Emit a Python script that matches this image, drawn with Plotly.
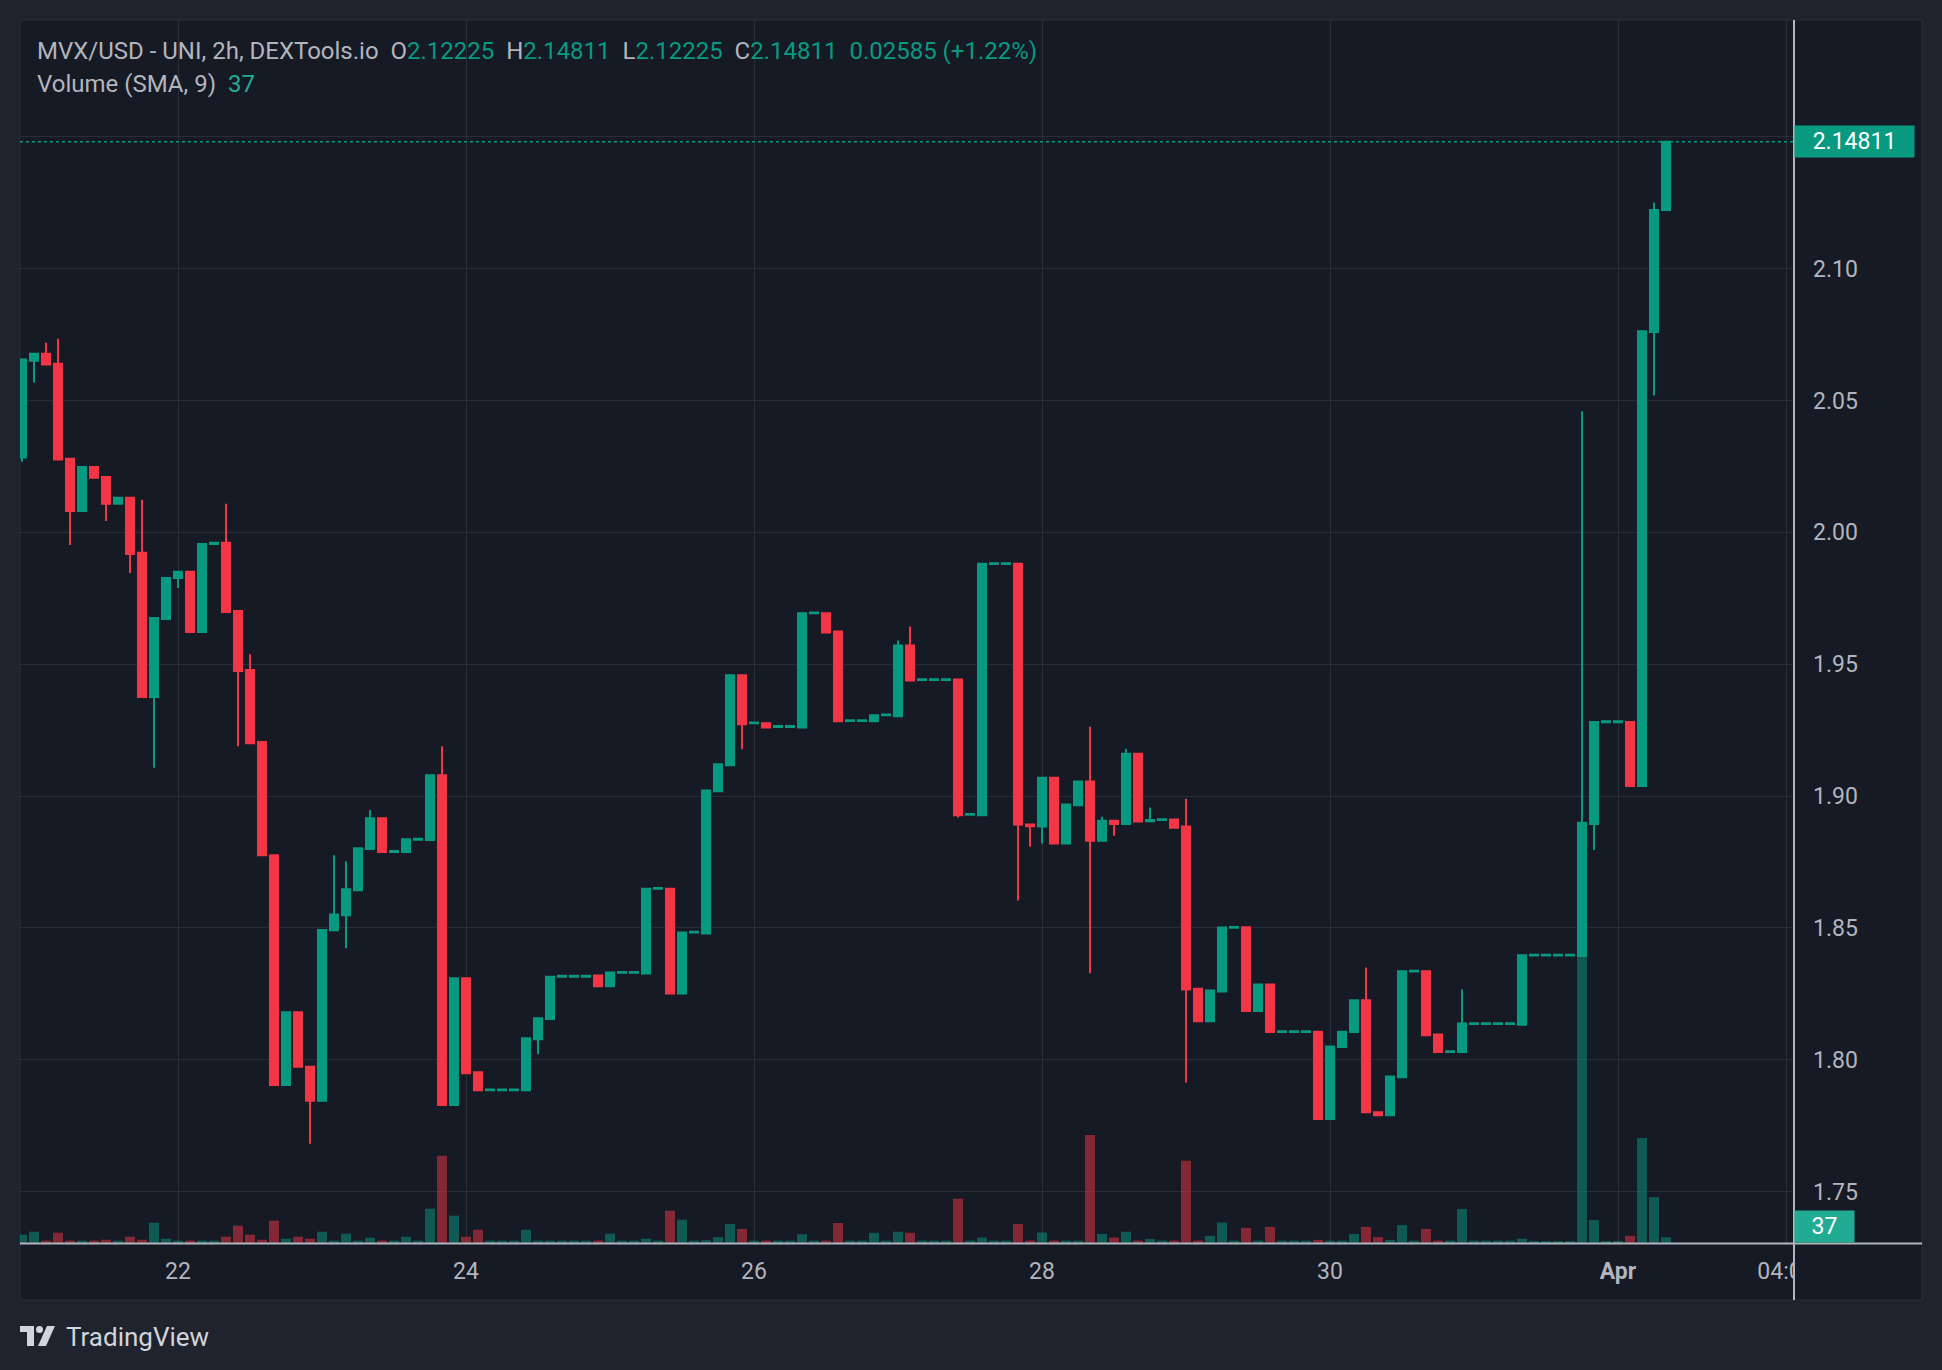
import pandas as pd
import plotly.graph_objects as go

# ---------------- data (2h candles, MVX/USD) ----------------
start_time = "2024-03-20 22:00"
opens = [2.0284, 2.0651, 2.0677, 2.0639, 2.0279, 2.0081, 2.0248, 2.0210, 2.0108, 2.0131,
         1.9922, 1.9375, 1.9671, 1.9827, 1.9850, 1.9622, 1.9956, 1.9960, 1.9702, 1.9478,
         1.9205, 1.8775, 1.7904, 1.8180, 1.7973, 1.7844, 1.8491, 1.8548, 1.8643, 1.8799,
         1.8916, 1.8788, 1.8788, 1.8834, 1.8833, 1.9079, 1.7828, 1.8309, 1.7952, 1.7884,
         1.7884, 1.7884, 1.7884, 1.8078, 1.8154, 1.8315, 1.8315, 1.8315, 1.8319, 1.8279,
         1.8330, 1.8330, 1.8327, 1.8648, 1.8648, 1.8251, 1.8482, 1.8479, 1.9018, 1.9117,
         1.9458, 1.9276, 1.9276, 1.9262, 1.9262, 1.9260, 1.9693, 1.9693, 1.9624, 1.9284,
         1.9284, 1.9283, 1.9306, 1.9302, 1.9571, 1.9440, 1.9440, 1.9440, 1.9442, 1.8929,
         1.8927, 1.9880, 1.9880, 1.9881, 1.8892, 1.8884, 1.9069, 1.8820, 1.8965, 1.9055,
         1.8830, 1.8906, 1.8894, 1.9160, 1.8904, 1.8909, 1.8911, 1.8884, 1.8269, 1.8146,
         1.8259, 1.8500, 1.8502, 1.8185, 1.8285, 1.8105, 1.8105, 1.8105, 1.8106, 1.7775,
         1.8048, 1.8105, 1.8225, 1.7801, 1.7789, 1.7933, 1.8334, 1.8335, 1.8096, 1.8029,
         1.8029, 1.8135, 1.8135, 1.8135, 1.8135, 1.8133, 1.8395, 1.8395, 1.8395, 1.8395,
         1.8393, 1.8894, 1.9280, 1.9280, 1.9281, 1.9038, 2.0760, 2.12225]
closes = [2.0655, 2.0677, 2.0636, 2.0276, 2.0081, 2.0248, 2.0207, 2.0108, 2.0131, 1.9918,
          1.9375, 1.9675, 1.9827, 1.9850, 1.9622, 1.9956, 1.9960, 1.9698, 1.9474, 1.9200,
          1.8775, 1.7904, 1.8180, 1.7973, 1.7844, 1.8492, 1.8551, 1.8646, 1.8802, 1.8916,
          1.8788, 1.8791, 1.8836, 1.8838, 1.9079, 1.7828, 1.8309, 1.7949, 1.7884, 1.7887,
          1.7887, 1.7887, 1.8081, 1.8157, 1.8315, 1.8318, 1.8318, 1.8318, 1.8279, 1.8331,
          1.8333, 1.8333, 1.8648, 1.8651, 1.8251, 1.8482, 1.8485, 1.9021, 1.9120, 1.9458,
          1.9272, 1.9279, 1.9260, 1.9265, 1.9265, 1.9693, 1.9696, 1.9620, 1.9283, 1.9287,
          1.9287, 1.9306, 1.9309, 1.9571, 1.9438, 1.9443, 1.9443, 1.9443, 1.8927, 1.8932,
          1.9881, 1.9883, 1.9883, 1.8892, 1.8885, 1.9069, 1.8820, 1.8968, 1.9055, 1.8830,
          1.8906, 1.8894, 1.9160, 1.8903, 1.8909, 1.8912, 1.8880, 1.8266, 1.8146, 1.8262,
          1.8501, 1.8503, 1.8185, 1.8285, 1.8105, 1.8108, 1.8108, 1.8108, 1.7775, 1.8050,
          1.8106, 1.8225, 1.7801, 1.7789, 1.7936, 1.8335, 1.8337, 1.8093, 1.8029, 1.8032,
          1.8137, 1.8138, 1.8138, 1.8138, 1.8138, 1.8396, 1.8398, 1.8398, 1.8398, 1.8398,
          1.8899, 1.9281, 1.9283, 1.9283, 1.9038, 2.0762, 2.12225, 2.14811]
# explicit wick extremes (index: value); other candles have no wick
wick_highs = {2: 2.0719, 3: 2.0734, 8: 2.0131, 10: 2.0123, 17: 2.0108, 18: 1.9705,
              19: 1.9538, 26: 1.8775, 27: 1.8752, 29: 1.8947, 35: 1.9189, 73: 1.9590,
              74: 1.9643, 89: 1.9263, 90: 1.8921, 92: 1.9179, 94: 1.8956, 97: 1.8990,
              112: 1.8350, 120: 1.8266, 130: 2.0459, 136: 2.1251}
wick_lows = {0: 2.0268, 1: 2.0568, 4: 1.9952, 7: 2.0043, 9: 1.9846, 11: 1.9107,
             13: 1.9789, 18: 1.9189, 24: 1.7681, 27: 1.8423, 43: 1.8021, 60: 1.9177,
             78: 1.8918, 83: 1.8604, 84: 1.8808, 85: 1.8820, 89: 1.8328, 91: 1.8849,
             97: 1.7914, 131: 1.8795, 136: 2.0519}
volumes = [53, 72, 15, 66, 15, 15, 15, 21, 15, 40, 21, 130, 28, 15, 15, 15, 15, 40, 111, 53,
           21, 143, 28, 40, 28, 72, 15, 60, 15, 34, 15, 15, 40, 15, 220, 559, 175, 40, 85, 15,
           15, 15, 85, 15, 15, 15, 15, 15, 15, 60, 15, 15, 28, 15, 207, 149, 15, 18, 38, 122,
           90, 15, 15, 15, 15, 56, 15, 15, 128, 15, 15, 65, 15, 72, 65, 15, 15, 15, 284, 15,
           35, 15, 15, 122, 15, 67, 15, 15, 15, 692, 58, 35, 72, 15, 26, 15, 15, 527, 15, 46,
           131, 15, 97, 15, 103, 15, 15, 15, 20, 15, 15, 58, 103, 38, 20, 115, 15, 90, 15, 15,
           218, 15, 15, 15, 15, 28, 12, 12, 12, 12, 1830, 147, 13, 13, 46, 672, 294, 37]

price_ticks = [1.75, 1.80, 1.85, 1.90, 1.95, 2.00, 2.05, 2.10, 2.15]
# the 2.15 label is hidden behind the last-price label in the reference
price_tick_labels = ["1.75", "1.80", "1.85", "1.90", "1.95", "2.00", "2.05", "2.10", ""]
time_ticks = ["2024-03-22", "2024-03-24", "2024-03-26", "2024-03-28", "2024-03-30",
              "2024-04-01", "2024-04-02 04:00"]
time_tick_labels = ["22", "24", "26", "28", "30", "<b>Apr</b>", "04:00"]

header_symbol = "MVX/USD - UNI, 2h, DEXTools.io"
header_values = [("O", "2.12225"), ("H", "2.14811"), ("L", "2.12225"), ("C", "2.14811")]
header_change = "0.02585 (+1.22%)"
volume_title = "Volume (SMA, 9)"
volume_last = "37"

# ---------------- styling ----------------
W, H = 1942, 1370
PL, PR, PT, PB = 20, 1793, 20, 1243      # plot area in pixels
PANEL_R, PANEL_B = 1922, 1300
PAGE_BG = "#1f232e"
PANEL_BG = "#161a25"
GRID = "#292d38"
TEXT = "#b2b5be"
UP = "#089981"
DOWN = "#f23645"
UP_VOL = "rgba(8,153,129,0.5)"
DOWN_VOL = "rgba(242,54,69,0.5)"
FONT = "Roboto"
AXIS_FONT = 23


def px_x(p):
    return (p - PL) / (PR - PL)


def px_y(p):
    return (PB - p) / (PB - PT)


times = pd.date_range(start_time, periods=len(opens), freq="2h")
highs = [max(o, c, wick_highs.get(i, 0)) for i, (o, c) in enumerate(zip(opens, closes))]
lows = [min(o, c, wick_lows.get(i, 9)) for i, (o, c) in enumerate(zip(opens, closes))]
vol_colors = [UP_VOL if c >= o else DOWN_VOL for o, c in zip(opens, closes)]

fig = go.Figure()
fig.add_trace(go.Bar(x=times, y=volumes, marker=dict(color=vol_colors, line=dict(width=0)),
                     yaxis="y2", hoverinfo="skip"))
fig.add_trace(go.Candlestick(
    x=times, open=opens, high=highs, low=lows, close=closes,
    increasing=dict(line=dict(color=UP, width=2), fillcolor=UP),
    decreasing=dict(line=dict(color=DOWN, width=2), fillcolor=DOWN),
    whiskerwidth=0, hoverinfo="skip"))

# price / time range derived from pixel calibration
y_per_px = 0.05 / 131.85
y_top = 2.10 + (268.6 - PT) * y_per_px
y_bot = 2.10 - (PB - 268.6) * y_per_px
x_start = pd.Timestamp("2024-03-21 00:00") - pd.Timedelta(minutes=140)
x_end = pd.Timestamp("2024-04-01 00:00") + pd.Timedelta(minutes=1750)

LOGO = "#d1d4dc"
shapes = [
    # chart panel
    dict(type="rect", xref="paper", yref="paper", x0=px_x(PL), x1=px_x(PANEL_R),
         y0=px_y(PT), y1=px_y(PANEL_B), fillcolor=PANEL_BG,
         line=dict(color="#2a2e39", width=1), layer="below"),
    # cover overflow of time labels in price-scale corner
    dict(type="rect", xref="paper", yref="paper", x0=px_x(PR + 1), x1=px_x(PANEL_R - 1),
         y0=px_y(PB + 2), y1=px_y(PANEL_B - 1), fillcolor=PANEL_BG, line=dict(width=0),
         layer="above"),
    # price scale border
    dict(type="line", xref="paper", yref="paper", x0=px_x(PR + 1), x1=px_x(PR + 1),
         y0=px_y(PT), y1=px_y(PANEL_B), line=dict(color=TEXT, width=2), layer="above"),
    # time scale border
    dict(type="line", xref="paper", yref="paper", x0=px_x(PL), x1=px_x(PANEL_R),
         y0=px_y(PB + 0.5), y1=px_y(PB + 0.5), line=dict(color=TEXT, width=2), layer="above"),
    # last price dotted line
    dict(type="line", xref="paper", yref="y", x0=0, x1=1, y0=closes[-1], y1=closes[-1],
         line=dict(color=UP, width=1.5, dash="dot")),
    # TradingView logo glyph
    dict(type="rect", xref="paper", yref="paper", x0=px_x(20), x1=px_x(34),
         y0=px_y(1326), y1=px_y(1332), fillcolor=LOGO, line=dict(width=0)),
    dict(type="rect", xref="paper", yref="paper", x0=px_x(27), x1=px_x(34),
         y0=px_y(1326), y1=px_y(1346), fillcolor=LOGO, line=dict(width=0)),
    dict(type="circle", xref="paper", yref="paper", x0=px_x(36), x1=px_x(43),
         y0=px_y(1326), y1=px_y(1333), fillcolor=LOGO, line=dict(width=0)),
    dict(type="path", xref="paper", yref="paper",
         path="M {} {} L {} {} L {} {} L {} {} Z".format(
             px_x(47), px_y(1326), px_x(55), px_y(1326), px_x(46), px_y(1346), px_x(38), px_y(1346)),
         fillcolor=LOGO, line=dict(width=0)),
]

hdr = "<span style='color:{t}'>{s}</span>".format(t=TEXT, s=header_symbol)
for k, v in header_values:
    hdr += "  <span style='color:{t}'>{k}</span><span style='color:{u}'>{v}</span>".format(
        t=TEXT, k=k, u=UP, v=v)
hdr += "  <span style='color:{u}'>{c}</span>".format(u=UP, c=header_change)
hdr2 = "<span style='color:{t}'>{a}</span>  <span style='color:#22ab94'>{b}</span>".format(
    t=TEXT, a=volume_title, b=volume_last)

annotations = [
    dict(text=hdr, xref="paper", yref="paper", x=px_x(35), y=px_y(51), xanchor="left",
         yanchor="middle", showarrow=False, font=dict(family=FONT, size=24, color=TEXT)),
    dict(text=hdr2, xref="paper", yref="paper", x=px_x(35), y=px_y(84), xanchor="left",
         yanchor="middle", showarrow=False, font=dict(family=FONT, size=24, color=TEXT)),
    # last price label
    dict(text="{:.5f}".format(closes[-1]), xref="paper", yref="y", x=px_x(PR + 1), y=closes[-1],
         xanchor="left", yanchor="middle", showarrow=False, width=117, height=29,
         bgcolor=UP, borderpad=1, align="center",
         font=dict(family=FONT, size=AXIS_FONT, color="#ffffff")),
    # last volume label
    dict(text=str(volumes[-1]), xref="paper", yref="y2", x=px_x(PR + 1), y=0,
         xanchor="left", yanchor="bottom", showarrow=False, width=57, height=29,
         bgcolor="#22ab94", borderpad=1, align="center",
         font=dict(family=FONT, size=AXIS_FONT, color="#ffffff")),
    # watermark
    dict(text="TradingView", xref="paper", yref="paper", x=px_x(64), y=px_y(1337),
         xanchor="left", yanchor="middle", showarrow=False,
         font=dict(family=FONT, size=26, color=LOGO)),
]

fig.update_layout(
    width=W, height=H, autosize=False,
    margin=dict(l=PL, r=W - PR, t=PT, b=H - PB, pad=0, autoexpand=False),
    paper_bgcolor=PAGE_BG, plot_bgcolor=PANEL_BG,
    showlegend=False, hovermode=False,
    bargap=0.17, boxgap=0.33, boxgroupgap=0,
    font=dict(family=FONT, color=TEXT),
    xaxis=dict(type="date", range=[x_start, x_end], rangeslider=dict(visible=False),
               tickvals=time_ticks, ticktext=time_tick_labels, showgrid=True,
               gridcolor=GRID, gridwidth=1, zeroline=False, showline=False, ticks="",
               tickfont=dict(family=FONT, size=AXIS_FONT, color=TEXT), ticklabelstandoff=12,
               fixedrange=True),
    yaxis=dict(side="right", range=[y_bot, y_top], tickvals=price_ticks,
               ticktext=price_tick_labels, showgrid=True, gridcolor=GRID, gridwidth=1,
               zeroline=False, showline=False, ticks="", ticklabelstandoff=19,
               tickfont=dict(family=FONT, size=AXIS_FONT, color=TEXT), fixedrange=True),
    yaxis2=dict(overlaying="y", range=[0, (PB - PT) * 6.4], visible=False,
                showgrid=False, fixedrange=True),
    shapes=shapes,
    annotations=annotations,
)

fig.write_html("out.html", config={"displayModeBar": False})
